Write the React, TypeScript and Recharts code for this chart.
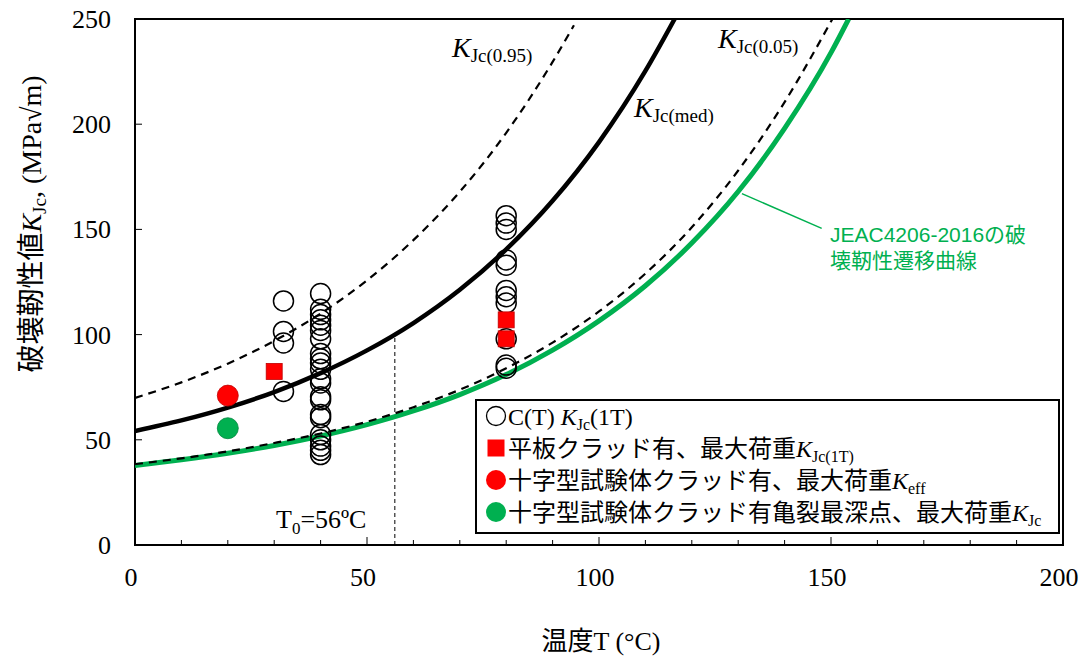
import React from 'react';
import { ComposedChart, Line, Scatter, XAxis, YAxis, ReferenceLine, ReferenceArea } from 'recharts';

// ---- axis ticks ----
const xTicks = [0, 10, 20, 30, 40, 50, 60, 70, 80, 90, 100, 110, 120, 130, 140, 150, 160, 170, 180, 190, 200];
const xLabelTicks = [0, 50, 100, 150, 200];
const yTicks = [0, 50, 100, 150, 200, 250];

// ---- curves ----
const medianCurve = [
  { T: 0, K: 54.2 }, { T: 10, K: 59.2 }, { T: 20, K: 65.3 }, { T: 30, K: 72.7 },
  { T: 40, K: 81.7 }, { T: 50, K: 92.5 }, { T: 60, K: 105.5 }, { T: 70, K: 121.3 },
  { T: 80, K: 140.5 }, { T: 90, K: 163.6 }, { T: 100, K: 191.5 }, { T: 110, K: 225.3 },
  { T: 116.3, K: 250 },
];
const upper95Curve = [
  { T: 0, K: 69.9 }, { T: 10, K: 77.3 }, { T: 20, K: 86.2 }, { T: 30, K: 97.0 },
  { T: 40, K: 110.0 }, { T: 50, K: 125.8 }, { T: 60, K: 144.9 }, { T: 70, K: 167.9 },
  { T: 80, K: 195.9 }, { T: 90, K: 229.6 }, { T: 94.6, K: 247 },
];
const lower05Curve = [
  { T: 0, K: 38.4 }, { T: 10, K: 41.2 }, { T: 20, K: 44.5 }, { T: 30, K: 48.5 },
  { T: 40, K: 53.0 }, { T: 50, K: 58.6 }, { T: 60, K: 65.5 }, { T: 70, K: 73.8 },
  { T: 80, K: 84.0 }, { T: 90, K: 96.2 }, { T: 100, K: 111.0 }, { T: 110, K: 129.0 },
  { T: 120, K: 151.0 }, { T: 130, K: 178.0 }, { T: 140, K: 210.5 }, { T: 150.3, K: 250 },
];
const jeacCurve = [
  { T: 0, K: 37.8 }, { T: 10, K: 40.5 }, { T: 20, K: 43.6 }, { T: 30, K: 47.3 },
  { T: 40, K: 51.8 }, { T: 50, K: 57.2 }, { T: 60, K: 63.7 }, { T: 70, K: 71.5 },
  { T: 80, K: 81.0 }, { T: 90, K: 92.6 }, { T: 100, K: 106.5 }, { T: 110, K: 123.2 },
  { T: 120, K: 143.5 }, { T: 130, K: 168.0 }, { T: 140, K: 198.0 }, { T: 150, K: 234.0 },
  { T: 153.8, K: 250 },
];

// ---- measured points ----
const ctOpen = [
  { T: 32, K: 116 }, { T: 32, K: 101.5 }, { T: 32, K: 96 }, { T: 32, K: 73 },
  { T: 40, K: 119.5 }, { T: 40, K: 112 }, { T: 40, K: 109.5 }, { T: 40, K: 107 },
  { T: 40, K: 104.5 }, { T: 40, K: 102 }, { T: 40, K: 98 }, { T: 40, K: 91 },
  { T: 40, K: 88.5 }, { T: 40, K: 86.5 }, { T: 40, K: 83.5 }, { T: 40, K: 79 },
  { T: 40, K: 77 }, { T: 40, K: 70.5 }, { T: 40, K: 69 }, { T: 40, K: 62 },
  { T: 40, K: 60.5 }, { T: 40, K: 52.5 }, { T: 40, K: 50 }, { T: 40, K: 47 },
  { T: 40, K: 45 }, { T: 40, K: 43 },
  { T: 80, K: 156.5 }, { T: 80, K: 153 }, { T: 80, K: 150 }, { T: 80, K: 135.5 },
  { T: 80, K: 133 }, { T: 80, K: 121 }, { T: 80, K: 118 }, { T: 80, K: 115 },
  { T: 80, K: 98 }, { T: 80, K: 85.5 }, { T: 80, K: 84 },
];
const plateClad = [{ T: 30, K: 82.5 }, { T: 80, K: 107 }, { T: 80, K: 98 }];
const cruciformEff = [{ T: 20, K: 71 }];
const cruciformDeepest = [{ T: 20, K: 55.5 }];

const RED = '#FF0000';
const GREEN = '#00B050';
const SERIF = '"Liberation Serif", "Times New Roman", "Noto Sans CJK JP", serif';
const SANS = '"Liberation Sans", Arial, "Noto Sans CJK JP", sans-serif';

const XTick = (props: any) => {
  const { x, y, payload } = props;
  const v = payload.value;
  const major = xLabelTicks.includes(v);
  return (
    <g>
      <line x1={x} x2={x} y1={y} y2={y - (major ? 8 : 5)} stroke="#000" strokeWidth={1} />
      {major && (
        <text x={x - 4} y={y + 41} textAnchor="middle" fontFamily={SERIF} fontSize={26} fill="#000">
          {v}
        </text>
      )}
    </g>
  );
};

const YTick = (props: any) => {
  const { x, y, payload } = props;
  return (
    <g>
      <line x1={x} x2={x + 7} y1={y} y2={y} stroke="#000" strokeWidth={1} />
      <text x={x - 24} y={y + 9} textAnchor="end" fontFamily={SERIF} fontSize={26} fill="#000">
        {payload.value}
      </text>
    </g>
  );
};

const OpenCircle = (p: any) => <circle cx={p.cx} cy={p.cy} r={10} fill="none" stroke="#000" strokeWidth={1.5} />;
const RedSquare = (p: any) => <rect x={p.cx - 8} y={p.cy - 8} width={16} height={16} fill={RED} stroke="#C00000" strokeWidth={0.8} />;
const RedDot = (p: any) => <circle cx={p.cx} cy={p.cy} r={10.5} fill={RED} stroke="#C00000" strokeWidth={0.8} />;
const GreenDot = (p: any) => <circle cx={p.cx} cy={p.cy} r={10.5} fill={GREEN} stroke="#00853C" strokeWidth={0.8} />;

export default function App() {
  return (
    <div style={{ position: 'absolute', left: 0, top: 0, width: 1083, height: 662, background: '#fff' }}>
      <ComposedChart width={1083} height={662} margin={{ top: 19, right: 20, bottom: 57, left: 0 }}>
        <XAxis
          dataKey="T" type="number" domain={[0, 200]} ticks={xTicks} interval={0}
          tickSize={0} tickMargin={0} axisLine={false} tickLine={false} height={60}
          tick={(p: any) => <XTick {...p} />} allowDataOverflow
        />
        <YAxis
          type="number" domain={[0, 250]} ticks={yTicks} interval={0}
          tickSize={0} tickMargin={0} axisLine={false} tickLine={false} width={135}
          tick={(p: any) => <YTick {...p} />} allowDataOverflow
        />
        <ReferenceArea x1={0} x2={200} y1={0} y2={250} fill="none" fillOpacity={0} stroke="#000" strokeWidth={2} />
        <ReferenceLine segment={[{ x: 56, y: 0 }, { x: 56, y: 100 }]} stroke="#000" strokeWidth={1} strokeDasharray="4 3" />
        <ReferenceLine segment={[{ x: 130.8, y: 167 }, { x: 148, y: 150.5 }]} stroke={GREEN} strokeWidth={1.5} />
        <Line data={jeacCurve} dataKey="K" type="monotone" stroke={GREEN} strokeWidth={5} dot={false} isAnimationActive={false} />
        <Line data={lower05Curve} dataKey="K" type="monotone" stroke="#000" strokeWidth={2.2} strokeDasharray="8 6" dot={false} isAnimationActive={false} />
        <Line data={medianCurve} dataKey="K" type="monotone" stroke="#000" strokeWidth={4.5} dot={false} isAnimationActive={false} />
        <Line data={upper95Curve} dataKey="K" type="monotone" stroke="#000" strokeWidth={2.2} strokeDasharray="8 6" dot={false} isAnimationActive={false} />
        <Scatter data={ctOpen} dataKey="K" shape={OpenCircle} isAnimationActive={false} />
        <Scatter data={plateClad} dataKey="K" shape={RedSquare} isAnimationActive={false} />
        <Scatter data={cruciformEff} dataKey="K" shape={RedDot} isAnimationActive={false} />
        <Scatter data={cruciformDeepest} dataKey="K" shape={GreenDot} isAnimationActive={false} />
      </ComposedChart>

      <svg width={1083} height={662} style={{ position: 'absolute', left: 0, top: 0, pointerEvents: 'none' }}>
        {/* axis titles */}
        <text transform="translate(41,224) rotate(-90)" textAnchor="middle" fontFamily={SERIF} fontSize={28} fill="#000">
          破壊靭性値<tspan fontStyle="italic">K</tspan>
          <tspan fontSize={19} dy={5}>Jc</tspan>
          <tspan dy={-5}>, (MPa√m)</tspan>
        </text>
        <text x={601} y={650} textAnchor="middle" fontFamily={SERIF} fontSize={26} fill="#000">
          温度T (°C)
        </text>

        {/* curve labels */}
        <text x={452} y={57} fontFamily={SERIF} fontSize={28} fill="#000">
          <tspan fontStyle="italic">K</tspan>
          <tspan fontSize={19} dy={5}>Jc(0.95)</tspan>
        </text>
        <text x={634} y={117} fontFamily={SERIF} fontSize={28} fill="#000">
          <tspan fontStyle="italic">K</tspan>
          <tspan fontSize={19} dy={5}>Jc(med)</tspan>
        </text>
        <text x={718} y={48} fontFamily={SERIF} fontSize={28} fill="#000">
          <tspan fontStyle="italic">K</tspan>
          <tspan fontSize={19} dy={5}>Jc(0.05)</tspan>
        </text>
        <text x={276} y={528} fontFamily={SERIF} fontSize={26} fill="#000">
          T<tspan fontSize={17} dy={6}>0</tspan>
          <tspan dy={-6}>=56ºC</tspan>
        </text>
        <text x={830} y={242} fontFamily={SANS} fontSize={21} fill={GREEN}>JEAC4206-2016の破</text>
        <text x={830} y={268} fontFamily={SANS} fontSize={21} fill={GREEN}>壊靭性遷移曲線</text>

        {/* legend */}
        <rect x={476} y={400} width={583} height={133} fill="#fff" stroke="#000" strokeWidth={2} />
        <circle cx={496} cy={416} r={9.5} fill="none" stroke="#000" strokeWidth={1.3} />
        <text x={508} y={425} fontFamily={SERIF} fontSize={24} fill="#000">
          C(T) <tspan fontStyle="italic">K</tspan>
          <tspan fontSize={16} dy={5}>Jc</tspan>
          <tspan dy={-5}>(1T)</tspan>
        </text>
        <rect x={487.5} y={439.5} width={17} height={17} fill={RED} />
        <text x={508} y={457} fontFamily={SERIF} fontSize={24} fill="#000">
          平板クラッド有、最大荷重<tspan fontStyle="italic">K</tspan>
          <tspan fontSize={16} dy={5}>Jc(1T)</tspan>
        </text>
        <circle cx={496} cy={480} r={10} fill={RED} />
        <text x={508} y={489} fontFamily={SERIF} fontSize={24} fill="#000">
          十字型試験体クラッド有、最大荷重<tspan fontStyle="italic">K</tspan>
          <tspan fontSize={16} dy={5}>eff</tspan>
        </text>
        <circle cx={496} cy={512} r={10} fill={GREEN} />
        <text x={508} y={521} fontFamily={SERIF} fontSize={24} fill="#000">
          十字型試験体クラッド有亀裂最深点、最大荷重<tspan fontStyle="italic">K</tspan>
          <tspan fontSize={16} dy={5}>Jc</tspan>
        </text>
      </svg>
    </div>
  );
}
